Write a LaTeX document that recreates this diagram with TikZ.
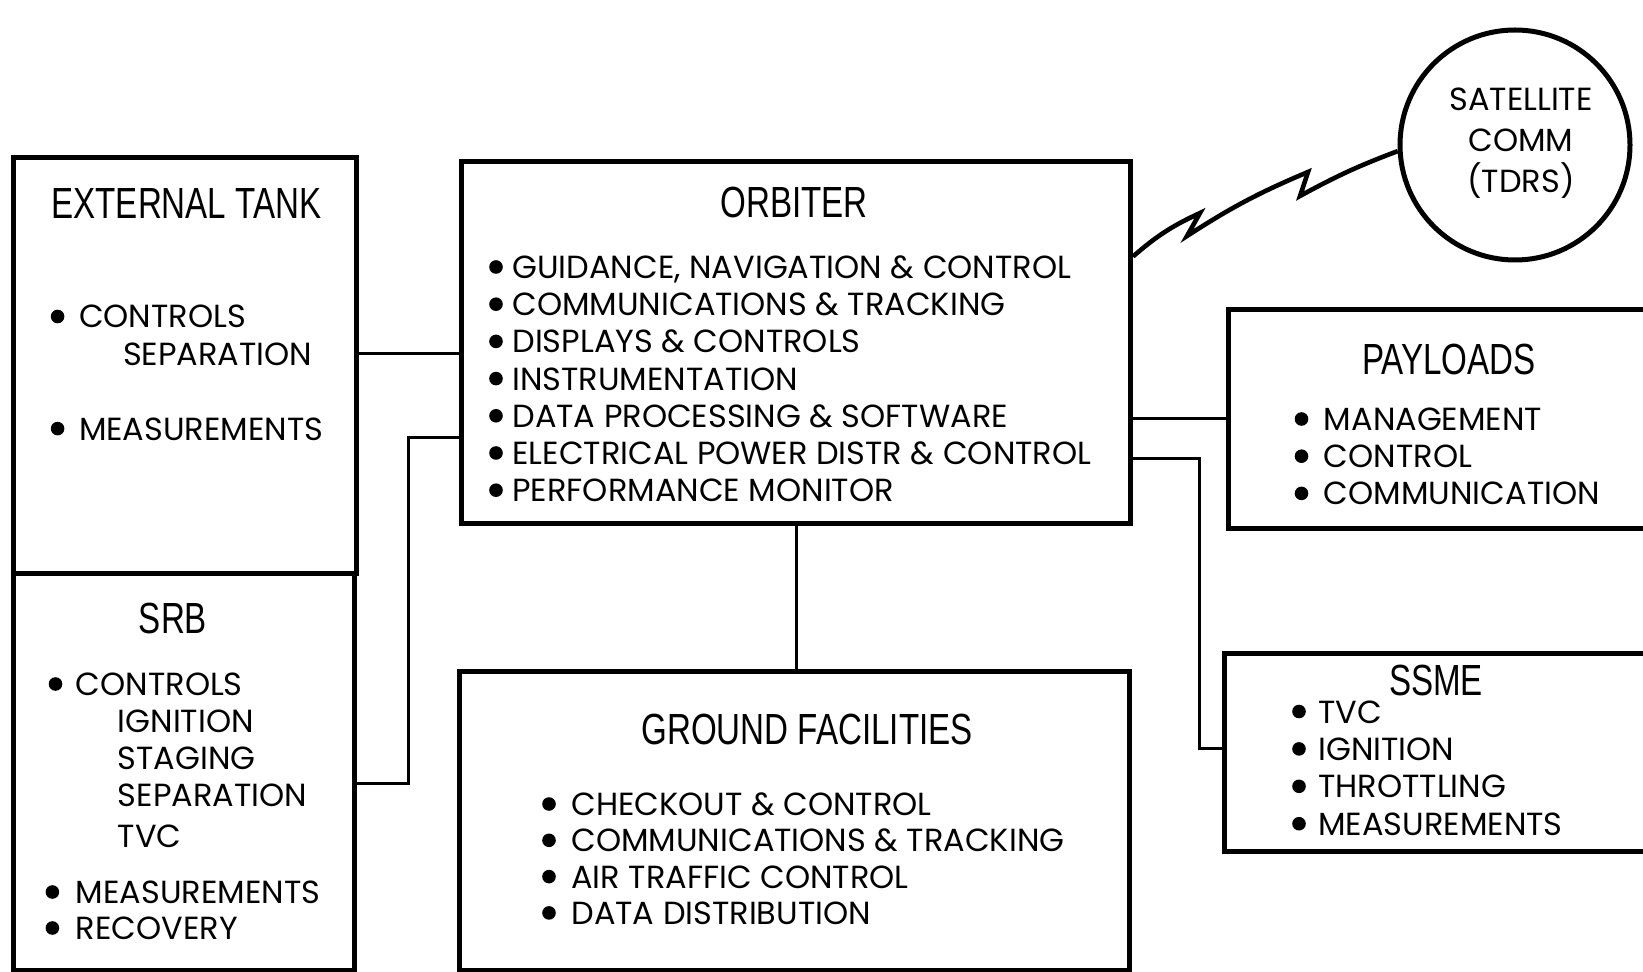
\documentclass[tikz,border=0pt]{standalone}
\usepackage{fontspec}
\setmainfont{Poppins}
\newfontfamily\ttlfont[FakeStretch=0.76]{Liberation Sans}
\newfontfamily\itmfont{Poppins}
\usetikzlibrary{positioning}
\tikzset{
  box/.style ={draw=black,line width=2.5pt,fill=white,anchor=north west,inner sep=0pt},
  ttl/.style ={font=\ttlfont\fontsize{21.8pt}{24pt}\selectfont,inner sep=0pt},
  itm/.style ={font=\itmfont\fontsize{16pt}{18pt}\selectfont,inner sep=0pt,anchor=base west},
  wire/.style={draw=black,line width=1.5pt},
  bolt/.style={draw=black,line width=2.3pt,line join=miter},
  dot/.style ={fill=black},
}
\begin{document}
\begin{tikzpicture}[x=0.5pt,y=-0.5pt]
\useasboundingbox (0,0) rectangle (1643,972);
\clip (0,0) rectangle (1643,972);

% ===== boxes ===============================================================
\node[box,minimum width=171.5pt,minimum height=208pt]   (et)   at (11,155)   {};
\node[box,minimum width=170.5pt,minimum height=198.5pt] (srb)  at (11,571)   {};
\node[box,minimum width=334.5pt,minimum height=181pt]   (orb)  at (459,159)  {};
\node[box,minimum width=335pt,minimum height=149.5pt]   (gnd)  at (457,669)  {};
\node[box,minimum width=213pt,minimum height=109.5pt]   (pay)  at (1226,307) {};
\node[box,minimum width=215pt,minimum height=99pt]      (ssme) at (1222,651) {};
\node[draw=black,line width=2.5pt,circle,minimum size=115pt,inner sep=0pt] (sat) at (1515,145) {};
\node[align=center,inner sep=0pt,font=\itmfont\fontsize{16pt}{20.5pt}\selectfont]
  (satT) at (1521,143) {SATELLITE\\COMM\\(TDRS)};

% ===== titles ==============================================================
\node[ttl] (etT)   at (186.5,204) {EXTERNAL TANK};
\node[ttl] (srbT)  at (173,618)   {SRB};
\node[ttl] (orbT)  at (794,202)   {ORBITER};
\node[ttl] (gndT)  at (807,729)   {GROUND FACILITIES};
\node[ttl] (payT)  at (1449,359)  {PAYLOADS};
\node[ttl] (ssmeT) at (1436,680)  {SSME};

% ===== item lists ==========================================================
\foreach \t [count=\i from 0] in {{GUIDANCE, NAVIGATION \& CONTROL},
    COMMUNICATIONS \& TRACKING, DISPLAYS \& CONTROLS, INSTRUMENTATION,
    DATA PROCESSING \& SOFTWARE, ELECTRICAL POWER DISTR \& CONTROL,
    PERFORMANCE MONITOR}{%
  \pgfmathsetmacro\yc{267+37.2*\i}
  \fill[dot] (496,\yc) circle [radius=3.4pt];
  \node[itm] (orb\i) at (512,\yc+11.5) {\t};
}
\foreach \t [count=\i from 0] in {CHECKOUT \& CONTROL, COMMUNICATIONS \& TRACKING,
    AIR TRAFFIC CONTROL, DATA DISTRIBUTION}{%
  \pgfmathsetmacro\yc{804+36.3*\i}
  \fill[dot] (549,\yc) circle [radius=3.4pt];
  \node[itm] (gnd\i) at (571,\yc+11.5) {\t};
}
\foreach \t [count=\i from 0] in {MANAGEMENT, CONTROL, COMMUNICATION}{%
  \pgfmathsetmacro\yc{419+37.2*\i}
  \fill[dot] (1301.5,\yc) circle [radius=3.4pt];
  \node[itm] (pay\i) at (1323.5,\yc+11.5) {\t};
}
\foreach \t [count=\i from 0] in {TVC, IGNITION, THROTTLING, MEASUREMENTS}{%
  \pgfmathsetmacro\yc{711.5+37.4*\i}
  \fill[dot] (1299,\yc) circle [radius=3.4pt];
  \node[itm] (ssme\i) at (1318,\yc+11.5) {\t};
}
% external tank and SRB: indented sub-items, so placed one by one
\foreach \bx/\tx/\yc/\t [count=\i] in {57.6/78.6/316.5/CONTROLS, -/122.6/354/SEPARATION,
    57.6/78.6/428.6/MEASUREMENTS}{%
  \if-\bx\else\fill[dot] (\bx,\yc) circle [radius=3.4pt];\fi
  \node[itm] (et\i) at (\tx,\yc+11.5) {\t};
}
\foreach \bx/\tx/\yc/\t [count=\i] in {55.5/75.5/684/CONTROLS, -/117.4/721/IGNITION,
    -/117.4/757.6/STAGING, -/117.4/795/SEPARATION, -/117.4/836/TVC,
    52.4/75.5/892/MEASUREMENTS, 52.4/75.5/928/RECOVERY}{%
  \if-\bx\else\fill[dot] (\bx,\yc) circle [radius=3.4pt];\fi
  \node[itm] (srb\i) at (\tx,\yc+11.5) {\t};
}

% ===== connectors ==========================================================
\draw[wire] ([yshift=6pt]et.east) -- ([yshift=6pt]et.east -| orb.west);
\draw[wire] ([yshift=-5.75pt]srb.east) -- ++(25.75pt,0) |- ([yshift=-47.5pt]orb.west);
\draw[wire] (orb.south) -- (orb.south |- gnd.north);
\draw[wire] ([yshift=-38pt]orb.east) -- ([yshift=-38pt]orb.east -| pay.west);
\draw[wire] ([yshift=-58pt]orb.east) -- ++(33.3pt,0) |- ([yshift=2pt]ssme.west);

% radio link to the relay satellite
\coordinate (z1) at (1200,213);
\coordinate (z2) at (1187,236);
\coordinate (z3) at (1308,172);
\coordinate (z4) at (1300,196);
\draw[bolt] ([yshift=43pt]orb.east) to[bend left=8] (z1) -- (z2)
  to[bend left=5] (z3) -- (z4) to[bend left=4] (sat.183);
\end{tikzpicture}
\end{document}
